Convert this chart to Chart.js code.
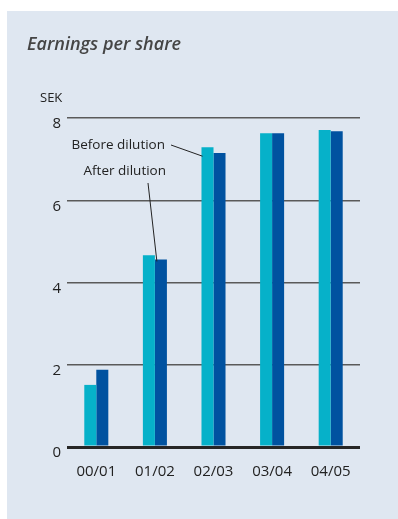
<!DOCTYPE html>
<html>
<head>
<meta charset="utf-8">
<script src="https://cdn.jsdelivr.net/npm/chart.js@4"></script>
<style>
  html, body { margin: 0; padding: 0; background: #fff; }
  #panel { position: absolute; left: 7px; top: 11px; width: 391px; height: 508px; background: #dfe7f1; }
  #panel canvas { position: absolute; left: 0; top: 0; }
  .title { position: absolute; left: 20px; top: 20px; font: italic 600 18px "Open Sans", sans-serif; color: #454545; white-space: nowrap; }
  .unit { position: absolute; left: 33px; top: 77px; font: 13px "Open Sans", sans-serif; color: #222; }
</style>
</head>
<body>
<div id="panel">
  <canvas id="chart" width="391" height="508"></canvas>
  <div class="title">Earnings per share</div>
  <div class="unit">SEK</div>
</div>
<script>
var categories = ["00/01", "01/02", "02/03", "03/04", "04/05"];
var beforeDilution = [1.51, 4.66, 7.29, 7.63, 7.71];
var afterDilution = [1.88, 4.56, 7.15, 7.63, 7.68];
var yTicks = [0, 2, 4, 6, 8];

// leader labels pointing at bars
var callouts = {
    id: "callouts",
    afterDatasetsDraw: function (chart) {
        var ctx = chart.ctx;
        var b = chart.getDatasetMeta(0).data[2];
        var a = chart.getDatasetMeta(1).data[1];
        ctx.save();
        ctx.font = "13.5px 'Open Sans', sans-serif";
        ctx.fillStyle = "#222";
        ctx.textAlign = "right";
        ctx.textBaseline = "middle";
        ctx.fillText("Before dilution", 158, 134);
        ctx.fillText("After dilution", 159, 160);
        ctx.strokeStyle = "#222";
        ctx.lineWidth = 1;
        ctx.beginPath();
        ctx.moveTo(164, 134);
        ctx.lineTo(b.x - b.width / 2 + 1, b.y + 9);
        ctx.moveTo(141, 172);
        ctx.lineTo(a.x - a.width / 2 + 2, a.y + 2);
        ctx.stroke();
        ctx.restore();
    }
};

new Chart(document.getElementById("chart"), {
    type: "bar",
    data: {
        labels: categories,
        datasets: [
            { label: "Before dilution", data: beforeDilution, backgroundColor: "#06b1c9" },
            { label: "After dilution", data: afterDilution, backgroundColor: "#0052a0" }
        ]
    },
    options: {
        responsive: false,
        animation: false,
        layout: { padding: { top: 107, right: 38, bottom: 12, left: 0 } },
        categoryPercentage: 0.41,
        barPercentage: 1,
        plugins: { legend: { display: false }, tooltip: { enabled: false } },
        scales: {
            x: {
                grid: { display: false },
                border: { display: false },
                ticks: { color: "#222", font: { family: "Open Sans", size: 15 }, padding: 8, maxRotation: 0 },
                afterFit: function (s) { s.height = 60; }
            },
            y: {
                min: 0,
                max: 8,
                afterBuildTicks: function (s) { s.ticks = yTicks.map(function (v) { return { value: v }; }); },
                border: { display: false },
                grid: {
                    drawTicks: false,
                    color: function (c) { return c.tick && c.tick.value === 0 ? "#262626" : "#5a5a5a"; },
                    lineWidth: function (c) { return c.tick && c.tick.value === 0 ? 3 : 1.5; }
                },
                ticks: { color: "#222", font: { family: "Open Sans", size: 15 }, padding: 6, labelOffset: 6 },
                afterFit: function (s) { s.width = 60; }
            }
        }
    },
    plugins: [callouts]
});
</script>
</body>
</html>
